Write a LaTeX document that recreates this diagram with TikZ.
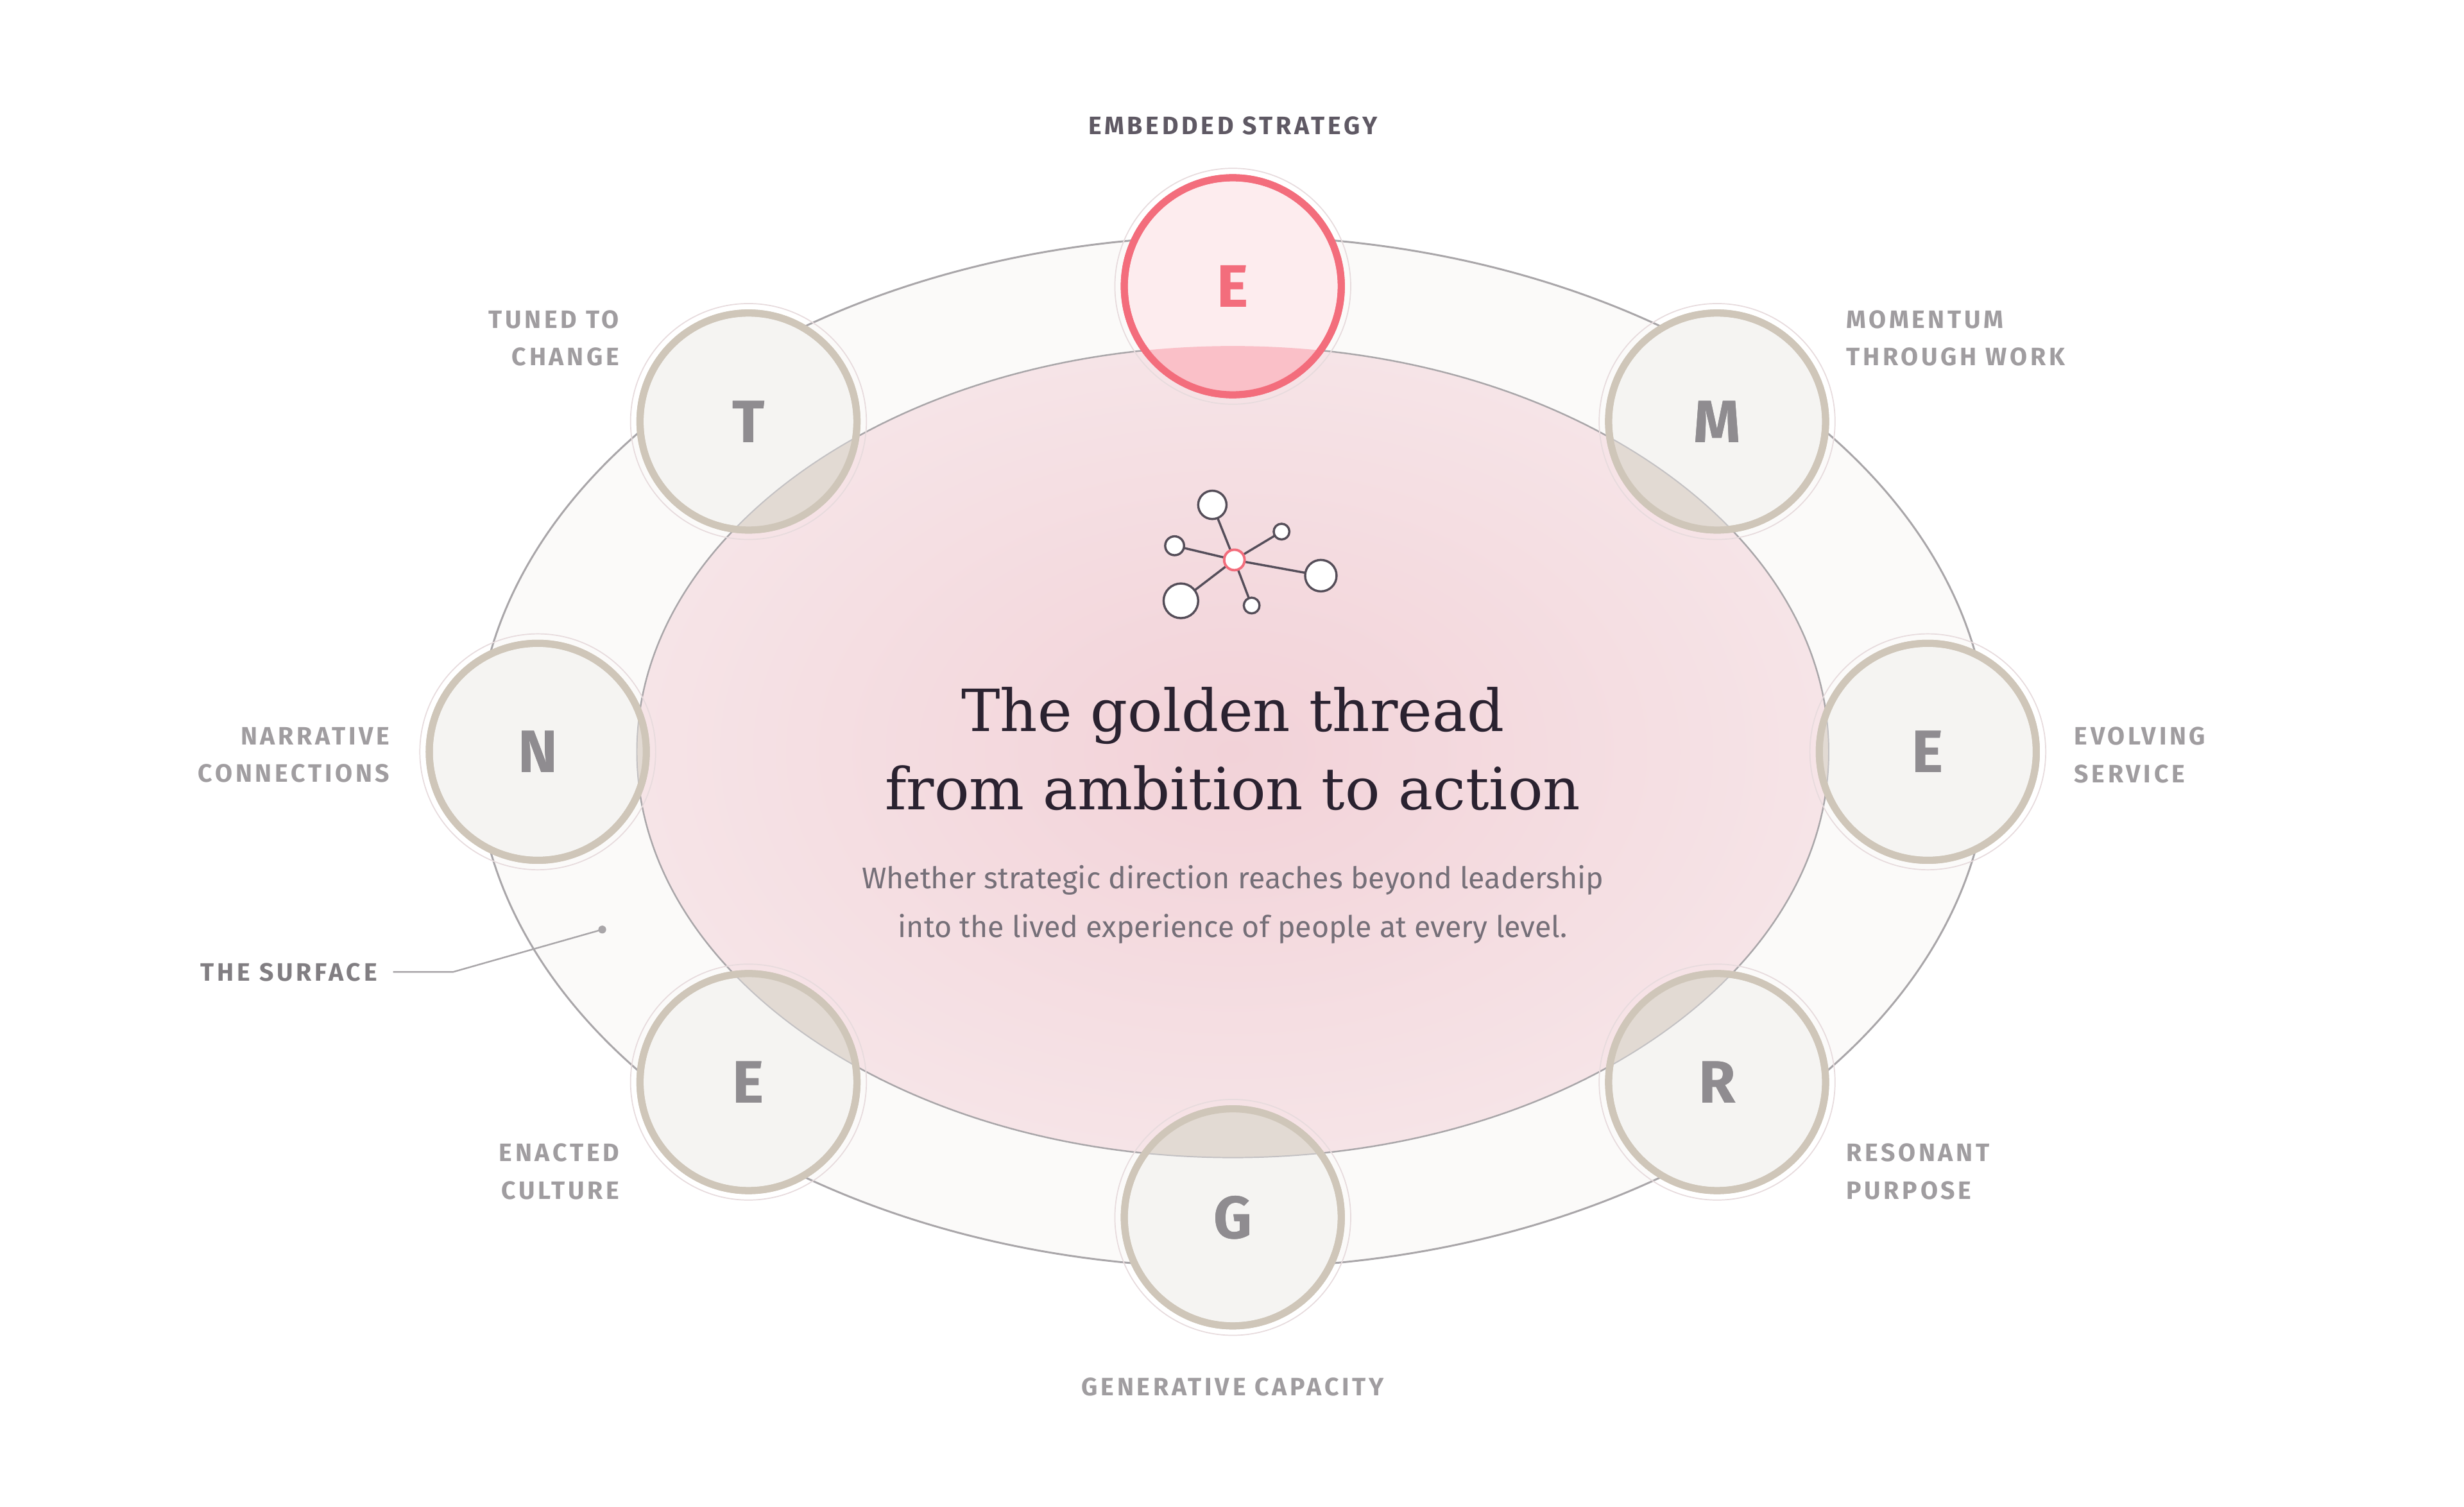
\documentclass[tikz,border=0pt]{standalone}
\usepackage{fontspec}
\setmainfont{Fira Sans}
\newfontfamily\labfont[LetterSpace=12]{Fira Sans}
\newfontfamily\titfont{DejaVu Serif}
\usetikzlibrary{calc}
\definecolor{lab}{HTML}{A09DA0}
\definecolor{ring}{HTML}{CFC6B9}
\definecolor{cfill}{HTML}{F5F4F2}
\definecolor{ovl}{HTML}{E2DAD3}
\definecolor{let}{HTML}{8F8C90}
\definecolor{pinkR}{HTML}{F36D7C}
\definecolor{edge}{HTML}{A9A6A9}
\definecolor{ink}{HTML}{2A2230}
\begin{document}
\begin{tikzpicture}[x=1pt,y=-1pt,
  lbl/.style={font=\labfont\fontsize{16}{24}\selectfont\bfseries, text=lab, align=#1, inner sep=0},
  lbl/.default=left,
  sat/.style={circle, minimum size=138pt, draw=ring, line width=4.5pt, fill=cfill,
     text=let, font=\fontsize{38}{40}\selectfont\bfseries},
  halo/.style={draw=pinkR!25!edge!35, line width=0.7pt},
  net/.style={draw=ink!80, line width=1.4pt, fill=white}]
\useasboundingbox (0,0) rectangle (1567,958);
\fill[white] (0,0) rectangle (1567,958);
\def\inner{(784,478) ellipse [x radius=379, y radius=258]}
% outer band
\fill[fill={rgb,255:red,251;green,250;blue,249}, draw=edge, line width=1.2pt] (784,478) ellipse [x radius=481, y radius=328];
% inner ellipse
\shade[inner color={rgb,255:red,242;green,210;blue,216}, outer color={rgb,255:red,246;green,228;blue,231}] \inner;
\draw[edge, line width=1pt] \inner;
% satellites
\foreach \p in {(784,182),(476,268),(1092,268),(342,478),(1226,478),(476,688),(1092,688),(784,774)}
  \draw[halo] \p circle (75);
\node[sat] (t) at (476,268) {T};
\node[sat] (m) at (1092,268) {M};
\node[sat] (n) at (342,478) {N};
\node[sat] (e2) at (1226,478) {E};
\node[sat] (e3) at (476,688) {E};
\node[sat] (r) at (1092,688) {R};
\node[sat] (g) at (784,774) {G};
\node[sat, draw=pinkR, fill={rgb,255:red,253;green,236;blue,238}, text=pinkR] (e1) at (784,182) {E};
% overlaps
\foreach \p in {(476,268),(1092,268),(342,478),(1226,478),(476,688),(1092,688),(784,774)}{
  \begin{scope}
    \clip \p circle (67);
    \fill[ovl] \inner;
    \draw[edge!70, line width=0.8pt] \inner;
  \end{scope}}
\begin{scope}
  \clip (784,182) circle (67);
  \fill[fill={rgb,255:red,250;green,192;blue,200}] \inner;
\end{scope}
% re-draw rings and letters on top
\foreach \nm/\tx in {t/T,m/M,n/N,e2/E,e3/E,r/R,g/G}{
  \draw[ring, line width=4.5pt] (\nm) circle (69);
  \node[text=let, font=\fontsize{38}{40}\selectfont\bfseries] at (\nm) {\tx};}
\draw[pinkR, line width=4.5pt] (e1) circle (69);
\node[text=pinkR, font=\fontsize{38}{40}\selectfont\bfseries] at (e1) {E};
% labels
\node[lbl=center, text=ink!75] (l1) at (784,80) {EMBEDDED STRATEGY};
\node[lbl=right, anchor=east] (l2) at (394,215) {TUNED TO\\CHANGE};
\node[lbl=left, anchor=west] (l3) at (1174,215) {MOMENTUM\\THROUGH WORK};
\node[lbl=right, anchor=east] (l4) at (248,480) {NARRATIVE\\CONNECTIONS};
\node[lbl=left, anchor=west] (l5) at (1319,480) {EVOLVING\\SERVICE};
\node[lbl=right, anchor=east] (l6) at (394,745) {ENACTED\\CULTURE};
\node[lbl=left, anchor=west] (l7) at (1174,745) {RESONANT\\PURPOSE};
\node[lbl=center] (l8) at (784,882) {GENERATIVE CAPACITY};
\node[lbl=left, anchor=east, text=let!90!black] (sf) at (240,618) {THE SURFACE};
\coordinate (sd) at (383,591);
\draw[edge, line width=1pt] (sf.east) ++(10,0) -- (288,618) -- (sd);
\fill[edge] (sd) circle (2.5);
% network icon
\coordinate (hub) at (785,356);
\foreach \q/\rr [count=\i] in {{(771,321)}/9,{(747,347)}/6,{(815,338)}/5,{(840,366)}/10,{(751,382)}/11,{(796,385)}/5}{
  \path \q coordinate (n\i);
  \draw[ink!80, line width=1.4pt] (hub) -- (n\i);
}
\foreach \q/\rr [count=\i] in {{(771,321)}/9,{(747,347)}/6,{(815,338)}/5,{(840,366)}/10,{(751,382)}/11,{(796,385)}/5}
  \draw[net] (n\i) circle (\rr);
\draw[pinkR, fill=white, line width=1.6pt] (hub) circle (6.5);
% text
\node[font=\titfont\fontsize{37}{50}\selectfont, text=ink, align=center] (title) at (784,476) {The golden thread\\from ambition to action};
\node[font=\fontsize{19}{31}\selectfont, text=ink!65, align=center] (sub) at (784,575) {Whether strategic direction reaches beyond leadership\\into the lived experience of people at every level.};
\end{tikzpicture}
\end{document}
